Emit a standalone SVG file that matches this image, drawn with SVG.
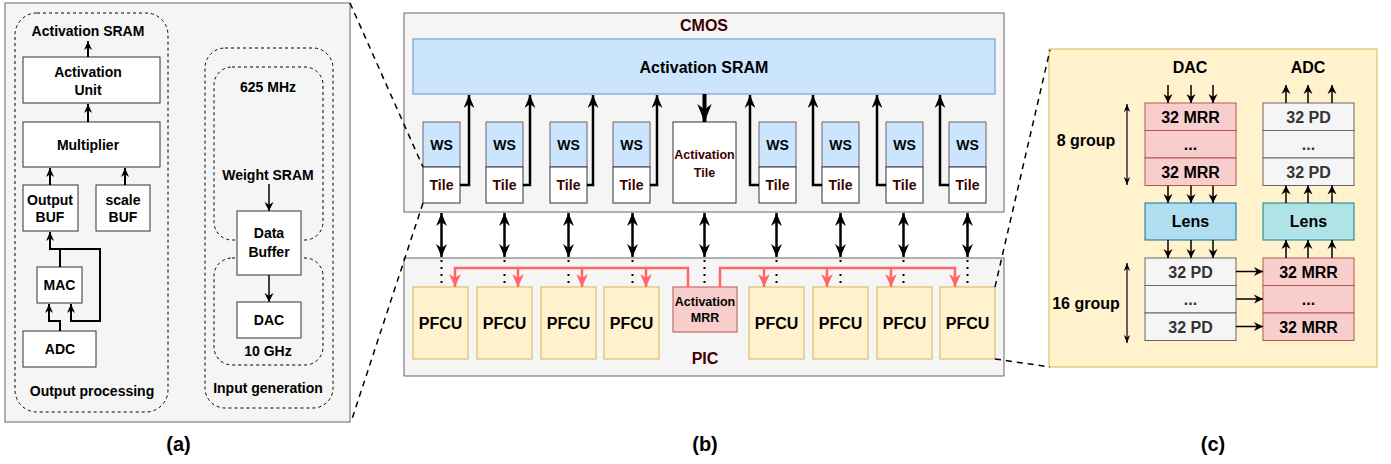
<svg xmlns="http://www.w3.org/2000/svg" width="1391" height="464" viewBox="0 0 1391 464">
<style>
text{font-family:"Liberation Sans",Arial,sans-serif;font-weight:bold;text-anchor:middle;fill:#000}
.t14{font-size:14px}
.t16{font-size:16px}
.t12{font-size:12.5px}
.lbl{font-size:20px}
.red{fill:#400000}
.gtx{fill:#333}
.panel{fill:#f5f5f5;stroke:#666;stroke-width:1}
.dash{fill:none;stroke:#000;stroke-width:1;stroke-dasharray:3 3}
.box{fill:#fff;stroke:#333;stroke-width:1}
.ws{fill:#cce5ff;stroke:#666;stroke-width:1}
.sram{fill:#cce5ff;stroke:#6c8ebf;stroke-width:1}
.pfcu{fill:#fff2cc;stroke:#d6b656;stroke-width:1}
.mrr{fill:#f8cecc;stroke:#b85450;stroke-width:1}
.pd{fill:#f5f5f5;stroke:#666;stroke-width:1}
.lensb{fill:#b1ddf0;stroke:#10739e;stroke-width:1}
.lensg{fill:#b0e3e6;stroke:#0e8088;stroke-width:1}
.ca{fill:none;stroke:#000;stroke-width:2}
.cb{fill:none;stroke:#000;stroke-width:2.5}
.cr{fill:none;stroke:#ff6666;stroke-width:2.5}
.cc{fill:none;stroke:#000;stroke-width:1.5}
.cg{fill:none;stroke:#000;stroke-width:1.2}
.dot{fill:none;stroke:#000;stroke-width:2;stroke-dasharray:2 5}
.zoom{fill:none;stroke:#000;stroke-width:1.5;stroke-dasharray:6 5}
</style>
<defs>
<marker id="ms" viewBox="0 0 10 10" refX="10" refY="5" markerWidth="9" markerHeight="9" markerUnits="userSpaceOnUse" orient="auto-start-reverse"><path d="M0,0.5 L10,5 L0,9.5 L3,5 z" fill="#000"/></marker>
<marker id="ml" viewBox="0 0 10 10" refX="10" refY="5" markerWidth="13" markerHeight="12" markerUnits="userSpaceOnUse" orient="auto-start-reverse" preserveAspectRatio="none"><path d="M0,0.5 L10,5 L0,9.5 L3,5 z" fill="#000"/></marker>
<marker id="mb" viewBox="0 0 10 10" refX="10" refY="5" markerWidth="18" markerHeight="16" markerUnits="userSpaceOnUse" orient="auto" preserveAspectRatio="none"><path d="M0,0.5 L10,5 L0,9.5 L3,5 z" fill="#000"/></marker>
<marker id="mr" viewBox="0 0 10 10" refX="10" refY="5" markerWidth="13" markerHeight="13" markerUnits="userSpaceOnUse" orient="auto" preserveAspectRatio="none"><path d="M0,0.5 L10,5 L0,9.5 L3,5 z" fill="#ff6666"/></marker>
<marker id="mc" viewBox="0 0 10 10" refX="10" refY="5" markerWidth="9" markerHeight="10" markerUnits="userSpaceOnUse" orient="auto" preserveAspectRatio="none"><path d="M0,0.5 L10,5 L0,9.5 L3,5 z" fill="#000"/></marker>
<marker id="mg" viewBox="0 0 10 10" refX="10" refY="5" markerWidth="8" markerHeight="7" markerUnits="userSpaceOnUse" orient="auto-start-reverse" preserveAspectRatio="none"><path d="M0,0.5 L10,5 L0,9.5 L3,5 z" fill="#000"/></marker>
</defs>

<!-- ===== Panel (a) ===== -->
<g id="panel-a">
<rect class="panel" x="5" y="3" width="345" height="419"/>
<rect class="dash" x="15" y="13" width="153" height="399" rx="22"/>
<rect class="dash" x="205" y="48" width="128" height="360" rx="20"/>
<rect class="dash" x="214" y="67" width="109" height="173" rx="18"/>
<rect class="dash" x="214" y="258" width="109" height="107" rx="18"/>
<text class="t14" x="88" y="36">Activation SRAM</text>
<text class="t14" x="92" y="396">Output processing</text>
<text class="t14" x="268" y="92">625 MHz</text>
<text class="t14" x="268" y="180">Weight SRAM</text>
<text class="t14" x="268" y="356">10 GHz</text>
<text class="t14" x="268" y="393">Input generation</text>
</g>
<g id="act-unit"><rect class="box" x="23" y="57" width="137" height="46"/><text class="t14" x="88" y="77">Activation</text><text class="t14" x="88" y="95">Unit</text></g>
<g id="multiplier"><rect class="box" x="23" y="122" width="137" height="45"/><text class="t14" x="88" y="150">Multiplier</text></g>
<g id="output-buf"><rect class="box" x="23" y="185" width="55" height="46"/><text class="t14" x="50" y="205">Output</text><text class="t14" x="50" y="222">BUF</text></g>
<g id="scale-buf"><rect class="box" x="96" y="185" width="54" height="46"/><text class="t14" x="123" y="205">scale</text><text class="t14" x="123" y="222">BUF</text></g>
<g id="mac"><rect class="box" x="37" y="267" width="45" height="36"/><text class="t14" x="59.5" y="290">MAC</text></g>
<g id="adc-a"><rect class="box" x="23" y="331" width="73" height="36"/><text class="t14" x="60" y="354">ADC</text></g>
<g id="data-buffer"><rect class="box" x="237" y="211" width="64" height="64"/><text class="t14" x="269" y="238">Data</text><text class="t14" x="269" y="257">Buffer</text></g>
<g id="dac-a"><rect class="box" x="237" y="302" width="64" height="36"/><text class="t14" x="269" y="325">DAC</text></g>

<!-- ===== Panel (b) ===== -->
<g id="cmos">
<rect class="panel" x="404" y="13" width="600" height="199"/>
<text class="t16 red" x="704" y="31">CMOS</text>
</g>
<g id="act-sram"><rect class="sram" x="413" y="39" width="582" height="55"/><text class="t16" x="704" y="73">Activation SRAM</text></g>
<g id="tile1"><rect class="ws" x="423" y="122" width="37" height="45"/><rect class="box" x="423" y="167" width="37" height="36"/><text class="t14" x="441.5" y="150">WS</text><text class="t14 red" x="441.5" y="190">Tile</text></g>
<g id="tile2"><rect class="ws" x="486" y="122" width="37" height="45"/><rect class="box" x="486" y="167" width="37" height="36"/><text class="t14" x="504.5" y="150">WS</text><text class="t14 red" x="504.5" y="190">Tile</text></g>
<g id="tile3"><rect class="ws" x="550" y="122" width="37" height="45"/><rect class="box" x="550" y="167" width="37" height="36"/><text class="t14" x="568.5" y="150">WS</text><text class="t14 red" x="568.5" y="190">Tile</text></g>
<g id="tile4"><rect class="ws" x="613" y="122" width="37" height="45"/><rect class="box" x="613" y="167" width="37" height="36"/><text class="t14" x="631.5" y="150">WS</text><text class="t14 red" x="631.5" y="190">Tile</text></g>
<g id="act-tile"><rect class="box" x="673" y="122" width="63" height="81"/><text class="t12 red" x="704.5" y="158.5">Activation</text><text class="t12 red" x="704.5" y="176.5">Tile</text></g>
<g id="tile5"><rect class="ws" x="759" y="122" width="37" height="45"/><rect class="box" x="759" y="167" width="37" height="36"/><text class="t14" x="777.5" y="150">WS</text><text class="t14 red" x="777.5" y="190">Tile</text></g>
<g id="tile6"><rect class="ws" x="822" y="122" width="37" height="45"/><rect class="box" x="822" y="167" width="37" height="36"/><text class="t14" x="840.5" y="150">WS</text><text class="t14 red" x="840.5" y="190">Tile</text></g>
<g id="tile7"><rect class="ws" x="886" y="122" width="37" height="45"/><rect class="box" x="886" y="167" width="37" height="36"/><text class="t14" x="904.5" y="150">WS</text><text class="t14 red" x="904.5" y="190">Tile</text></g>
<g id="tile8"><rect class="ws" x="949" y="122" width="37" height="45"/><rect class="box" x="949" y="167" width="37" height="36"/><text class="t14" x="967.5" y="150">WS</text><text class="t14 red" x="967.5" y="190">Tile</text></g>

<g id="pic">
<rect class="panel" x="404" y="258" width="600" height="118"/>
<text class="t16 red" x="705" y="364">PIC</text>
</g>
<g id="pfcu1"><rect class="pfcu" x="413" y="287" width="55" height="72"/><text class="t16" x="440.5" y="329">PFCU</text></g>
<g id="pfcu2"><rect class="pfcu" x="477" y="287" width="55" height="72"/><text class="t16" x="504.5" y="329">PFCU</text></g>
<g id="pfcu3"><rect class="pfcu" x="541" y="287" width="55" height="72"/><text class="t16" x="568.5" y="329">PFCU</text></g>
<g id="pfcu4"><rect class="pfcu" x="604" y="287" width="55" height="72"/><text class="t16" x="631.5" y="329">PFCU</text></g>
<g id="act-mrr"><rect class="mrr" x="673" y="287" width="64" height="45"/><text class="t12" x="705" y="306">Activation</text><text class="t12" x="705" y="322">MRR</text></g>
<g id="pfcu5"><rect class="pfcu" x="749" y="287" width="55" height="72"/><text class="t16" x="776.5" y="329">PFCU</text></g>
<g id="pfcu6"><rect class="pfcu" x="813" y="287" width="55" height="72"/><text class="t16" x="840.5" y="329">PFCU</text></g>
<g id="pfcu7"><rect class="pfcu" x="877" y="287" width="55" height="72"/><text class="t16" x="904.5" y="329">PFCU</text></g>
<g id="pfcu8"><rect class="pfcu" x="940" y="287" width="55" height="72"/><text class="t16" x="967.5" y="329">PFCU</text></g>

<!-- ===== Panel (c) ===== -->
<g id="panel-c">
<rect class="pfcu" x="1049" y="49" width="328" height="318"/>
<text class="t16" x="1190" y="73">DAC</text>
<text class="t16" x="1308" y="73">ADC</text>
<text class="t16" x="1086" y="146">8 group</text>
<text class="t16" x="1086" y="309">16 group</text>
</g>
<g id="mrr-top">
<rect class="mrr" x="1145" y="103" width="91" height="27.5"/><rect class="mrr" x="1145" y="130.5" width="91" height="27.5"/><rect class="mrr" x="1145" y="158" width="91" height="27.5"/>
<text class="t16" x="1190.5" y="122.5">32 MRR</text><text class="t16" x="1190.5" y="150">...</text><text class="t16" x="1190.5" y="177.5">32 MRR</text>
</g>
<g id="pd-top">
<rect class="pd" x="1263" y="103" width="91" height="27.5"/><rect class="pd" x="1263" y="130.5" width="91" height="27.5"/><rect class="pd" x="1263" y="158" width="91" height="27.5"/>
<text class="t16 gtx" x="1308.5" y="122.5">32 PD</text><text class="t16 gtx" x="1308.5" y="150">...</text><text class="t16 gtx" x="1308.5" y="177.5">32 PD</text>
</g>
<g id="lens-l"><rect class="lensb" x="1145" y="203" width="91" height="37"/><text class="t16" x="1190.5" y="227">Lens</text></g>
<g id="lens-r"><rect class="lensg" x="1263" y="203" width="91" height="37"/><text class="t16" x="1308.5" y="227">Lens</text></g>
<g id="pd-bot">
<rect class="pd" x="1145" y="258" width="91" height="27.5"/><rect class="pd" x="1145" y="285.5" width="91" height="27.5"/><rect class="pd" x="1145" y="313" width="91" height="27.5"/>
<text class="t16 gtx" x="1190.5" y="277.5">32 PD</text><text class="t16 gtx" x="1190.5" y="305">...</text><text class="t16 gtx" x="1190.5" y="332.5">32 PD</text>
</g>
<g id="mrr-bot">
<rect class="mrr" x="1263" y="258" width="91" height="27.5"/><rect class="mrr" x="1263" y="285.5" width="91" height="27.5"/><rect class="mrr" x="1263" y="313" width="91" height="27.5"/>
<text class="t16" x="1308.5" y="277.5">32 MRR</text><text class="t16" x="1308.5" y="305">...</text><text class="t16" x="1308.5" y="332.5">32 MRR</text>
</g>

<g id="labels">
<text class="lbl" x="178.5" y="451">(a)</text>
<text class="lbl" x="705" y="451">(b)</text>
<text class="lbl" x="1213" y="451">(c)</text>
</g>

<!-- ===== Connectors ===== -->
<g id="connectors">
<path class="ca" d="M88,57 V41" marker-end="url(#ms)"/>
<path class="ca" d="M88,122 V104" marker-end="url(#ms)"/>
<path class="ca" d="M50,185 V168" marker-end="url(#ms)"/>
<path class="ca" d="M125,185 V168" marker-end="url(#ms)"/>
<path class="ca" d="M60,267 V249 H50 V232" marker-end="url(#ms)"/>
<path class="ca" d="M60,249 H100 V321 H71 V304" marker-end="url(#ms)"/>
<path class="ca" d="M60,331 V321 H49 V304" marker-end="url(#ms)"/>
<path class="cc" d="M269,184 V211" marker-end="url(#mc)"/>
<path class="cc" d="M269,275 V302" marker-end="url(#mc)"/>
<path class="cb" d="M460,185 H469 V95" marker-end="url(#ml)"/>
<path class="cb" d="M523,185 H530 V95" marker-end="url(#ml)"/>
<path class="cb" d="M587,185 H593 V95" marker-end="url(#ml)"/>
<path class="cb" d="M650,185 H657 V95" marker-end="url(#ml)"/>
<path class="cb" d="M759,185 H750 V95" marker-end="url(#ml)"/>
<path class="cb" d="M822,185 H813 V95" marker-end="url(#ml)"/>
<path class="cb" d="M886,185 H877 V95" marker-end="url(#ml)"/>
<path class="cb" d="M949,185 H940 V95" marker-end="url(#ml)"/>
<path fill="none" stroke="#000" stroke-width="4" d="M704.5,94 V122" marker-end="url(#mb)"/>
<path class="cb" d="M441.5,213 V257" marker-start="url(#ml)" marker-end="url(#ml)"/>
<path class="cb" d="M504.5,213 V257" marker-start="url(#ml)" marker-end="url(#ml)"/>
<path class="cb" d="M568.5,213 V257" marker-start="url(#ml)" marker-end="url(#ml)"/>
<path class="cb" d="M632.5,213 V257" marker-start="url(#ml)" marker-end="url(#ml)"/>
<path class="cb" d="M704.5,213 V257" marker-start="url(#ml)" marker-end="url(#ml)"/>
<path class="cb" d="M776.5,213 V257" marker-start="url(#ml)" marker-end="url(#ml)"/>
<path class="cb" d="M840.5,213 V257" marker-start="url(#ml)" marker-end="url(#ml)"/>
<path class="cb" d="M903.5,213 V257" marker-start="url(#ml)" marker-end="url(#ml)"/>
<path class="cb" d="M967.5,213 V257" marker-start="url(#ml)" marker-end="url(#ml)"/>
<path class="dot" d="M441.5,260 V287 M504.5,260 V287 M568.5,260 V287 M632.5,260 V287 M704.5,260 V287 M776.5,260 V287 M840.5,260 V287 M903.5,260 V287 M967.5,260 V287"/>
<path class="cr" d="M688,287 V268 H455 V287" marker-end="url(#mr)"/>
<path class="cr" d="M518,268 V287" marker-end="url(#mr)"/>
<path class="cr" d="M582,268 V287" marker-end="url(#mr)"/>
<path class="cr" d="M646,268 V287" marker-end="url(#mr)"/>
<path class="cr" d="M720,287 V268 H955 V287" marker-end="url(#mr)"/>
<path class="cr" d="M764,268 V287" marker-end="url(#mr)"/>
<path class="cr" d="M827,268 V287" marker-end="url(#mr)"/>
<path class="cr" d="M891,268 V287" marker-end="url(#mr)"/>
<path class="zoom" d="M350,3 L423,167"/>
<path class="zoom" d="M423,203 L351,422"/>
<path class="zoom" d="M995,287 L1050,50"/>
<path class="zoom" d="M995,359 L1050,367"/>
<path class="cc" d="M1168,85 V103" marker-end="url(#mc)"/>
<path class="cc" d="M1191,85 V103" marker-end="url(#mc)"/>
<path class="cc" d="M1213,85 V103" marker-end="url(#mc)"/>
<path class="cc" d="M1286,103 V85" marker-end="url(#mc)"/>
<path class="cc" d="M1308,103 V85" marker-end="url(#mc)"/>
<path class="cc" d="M1332,103 V85" marker-end="url(#mc)"/>
<path class="cc" d="M1168,185.5 V203" marker-end="url(#mc)"/>
<path class="cc" d="M1191,185.5 V203" marker-end="url(#mc)"/>
<path class="cc" d="M1213,185.5 V203" marker-end="url(#mc)"/>
<path class="cc" d="M1286,203 V185.5" marker-end="url(#mc)"/>
<path class="cc" d="M1308,203 V185.5" marker-end="url(#mc)"/>
<path class="cc" d="M1332,203 V185.5" marker-end="url(#mc)"/>
<path class="cc" d="M1168,240 V258" marker-end="url(#mc)"/>
<path class="cc" d="M1191,240 V258" marker-end="url(#mc)"/>
<path class="cc" d="M1213,240 V258" marker-end="url(#mc)"/>
<path class="cc" d="M1286,258 V240" marker-end="url(#mc)"/>
<path class="cc" d="M1308,258 V240" marker-end="url(#mc)"/>
<path class="cc" d="M1332,258 V240" marker-end="url(#mc)"/>
<path class="cc" d="M1236,271.5 H1263" marker-end="url(#mc)"/>
<path class="cc" d="M1236,299 H1263" marker-end="url(#mc)"/>
<path class="cc" d="M1236,326.5 H1263" marker-end="url(#mc)"/>
<path class="cg" d="M1127,104 V185" marker-start="url(#mg)" marker-end="url(#mg)"/>
<path class="cg" d="M1127,263 V343" marker-start="url(#mg)" marker-end="url(#mg)"/>
</g>
</svg>
